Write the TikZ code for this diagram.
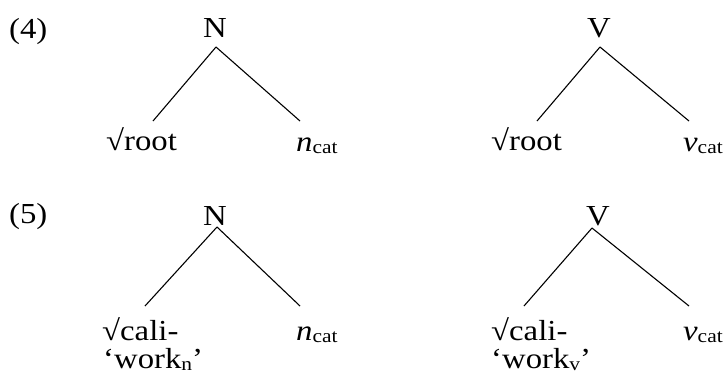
\documentclass[tikz,border=0pt]{standalone}
\usepackage{fontspec}
\setmainfont[FakeStretch=1.13]{Liberation Serif}
\newcommand{\subcat}[1]{{\fontsize{19}{19}\selectfont\raisebox{-2pt}{#1}}}
\begin{document}
\begin{tikzpicture}[x=1pt,y=-1pt,
  lbl/.style={inner sep=0pt,anchor=base west,font=\fontsize{29}{34}\selectfont},
  cat/.style={inner sep=0pt,anchor=base,font=\fontsize{29}{34}\selectfont},
  branch/.style={line width=1.1pt}]
\useasboundingbox (0,0) rectangle (724,376);

% example (4)
\node[lbl] (ex4) at (9,38) {(4)};
\node[cat] (N4) at (215,37) {N};
\coordinate (N4top) at (216,47);
\coordinate (N4l) at (153,121);
\coordinate (N4r) at (300,121);
\node[lbl] (root4n) at (106,150) {√root};
\node[lbl] (ncat4) at (296,151) {\textit{n}\subcat{cat}};
\draw[branch] (N4top) -- (N4l);
\draw[branch] (N4top) -- (N4r);

\node[cat] (V4) at (599,37) {V};
\coordinate (V4top) at (600,47);
\coordinate (V4l) at (537,121);
\coordinate (V4r) at (689,121);
\node[lbl] (root4v) at (491,150) {√root};
\node[lbl] (vcat4) at (683,151) {\textit{v}\subcat{cat}};
\draw[branch] (V4top) -- (V4l);
\draw[branch] (V4top) -- (V4r);

% example (5)
\node[lbl] (ex5) at (9,223) {(5)};
\node[cat] (N5) at (215,225) {N};
\coordinate (N5top) at (217,227);
\coordinate (N5l) at (145,306);
\coordinate (N5r) at (300,306);
\node[lbl] (cali5n) at (102,340) {√cali-};
\node[lbl] (work5n) at (103,368) {‘work\subcat{n}’};
\node[lbl] (ncat5) at (296,340) {\textit{n}\subcat{cat}};
\draw[branch] (N5top) -- (N5l);
\draw[branch] (N5top) -- (N5r);

\node[cat] (V5) at (598,225) {V};
\coordinate (V5top) at (592,228);
\coordinate (V5l) at (524,306);
\coordinate (V5r) at (689,306);
\node[lbl] (cali5v) at (491,340) {√cali-};
\node[lbl] (work5v) at (491,368) {‘work\subcat{v}’};
\node[lbl] (vcat5) at (683,340) {\textit{v}\subcat{cat}};
\draw[branch] (V5top) -- (V5l);
\draw[branch] (V5top) -- (V5r);
\end{tikzpicture}
\end{document}
